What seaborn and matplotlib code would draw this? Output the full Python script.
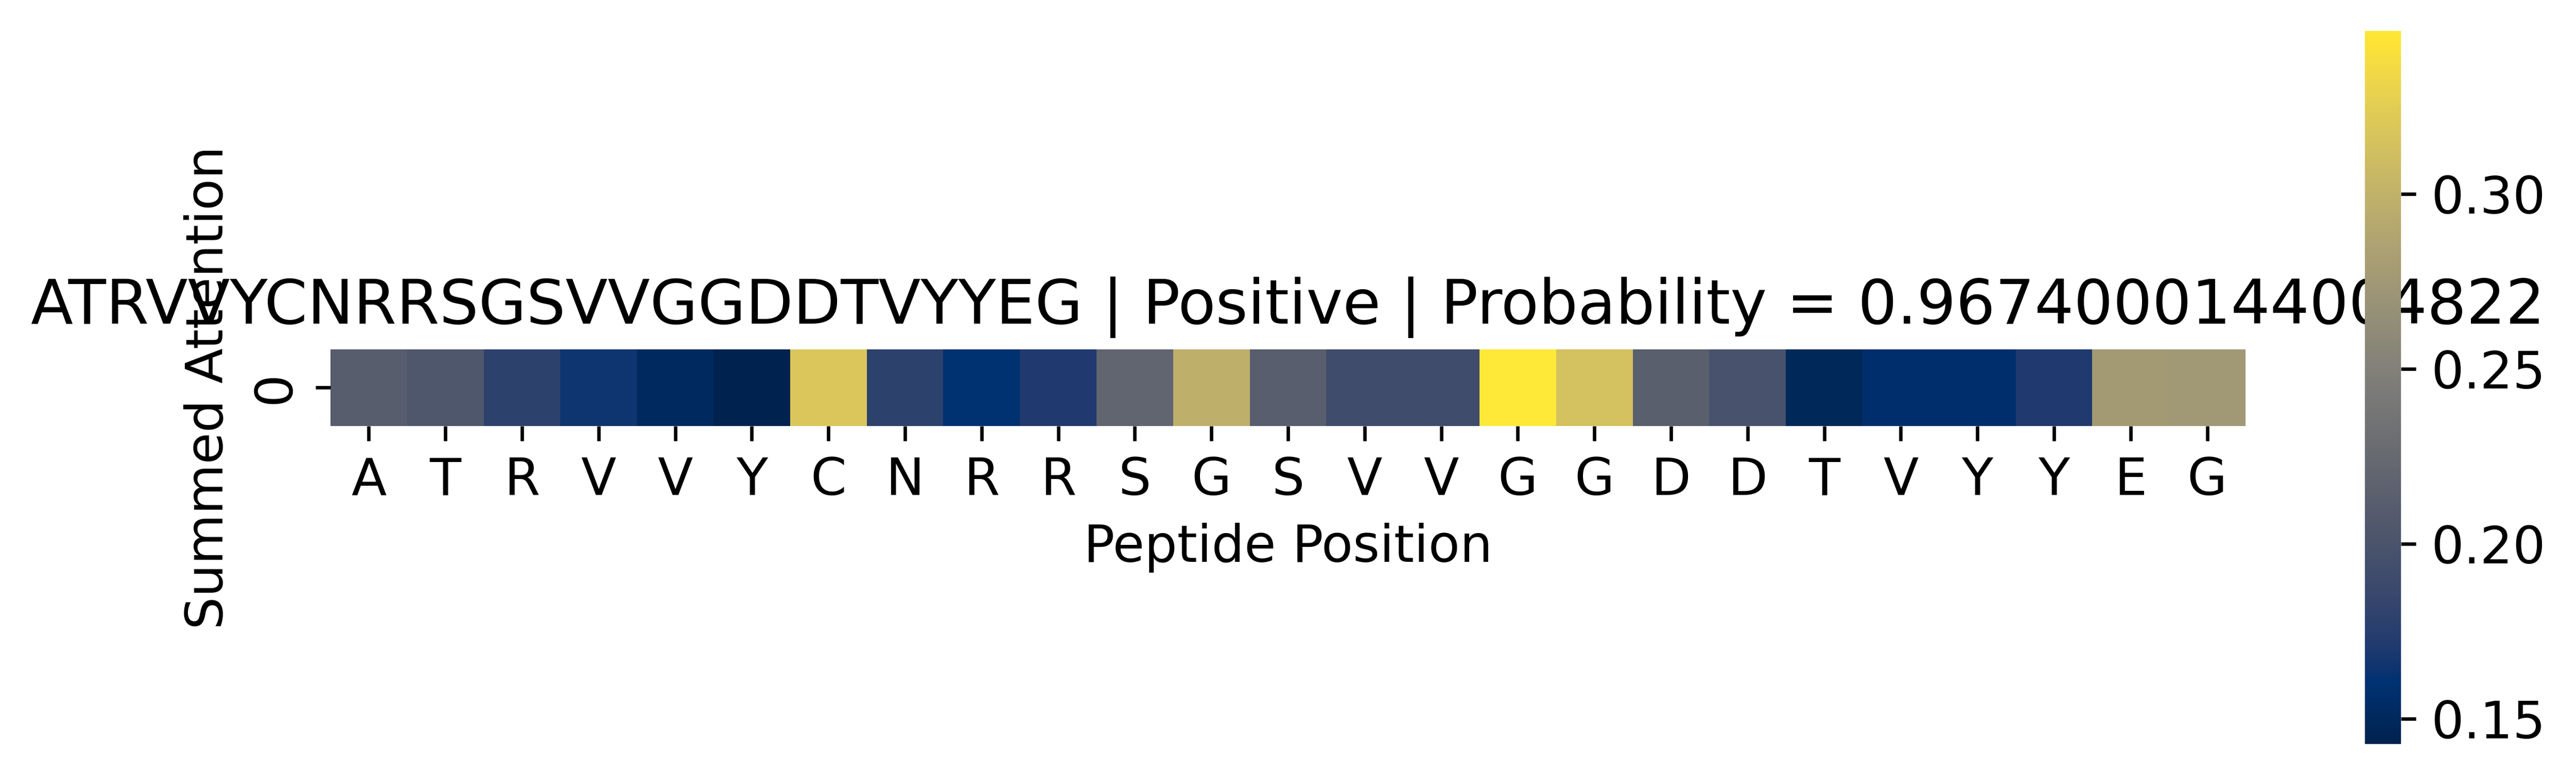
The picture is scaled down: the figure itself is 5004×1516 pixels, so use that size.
import matplotlib
matplotlib.use("Agg")
import matplotlib.pyplot as plt
import seaborn as sns
import numpy as np
import pandas as pd

peptide = "ATRVVYCNRRSGSVVGGDDTVYYEG"
residues = list(peptide)
attention = [0.211, 0.204, 0.178, 0.165, 0.151, 0.1428, 0.318, 0.178, 0.161, 0.171,
             0.220, 0.298, 0.212, 0.192, 0.192, 0.3466, 0.314, 0.213, 0.198, 0.149,
             0.157, 0.157, 0.171, 0.277, 0.275]
label = "Positive"
probability = 0.9674000144004822

plt.rcParams["font.size"] = 12

W, H = 5004, 1516
fig = plt.figure(figsize=(W / 600, H / 600), dpi=600)
# heatmap box: 25 square cells of ~148.8 px
ax = fig.add_axes([642 / W, (H - 679 - 148.8) / H, 3720 / W, 148.8 / H])
cax = fig.add_axes([4594 / W, (H - 1446) / H, 70 / W, 1386 / H])

df = pd.DataFrame([attention], columns=range(len(residues)))
sns.heatmap(df, ax=ax, cbar_ax=cax, cmap="cividis", square=True,
            xticklabels=residues, yticklabels=True)
ax.set_xticklabels(residues, rotation=0)
ax.set_title(f"{peptide} | {label} | Probability = {probability}")
ax.set_xlabel("Peptide Position")
ax.set_ylabel("Summed Attention")

fig.savefig("out.png", dpi=600)
plt.close()
